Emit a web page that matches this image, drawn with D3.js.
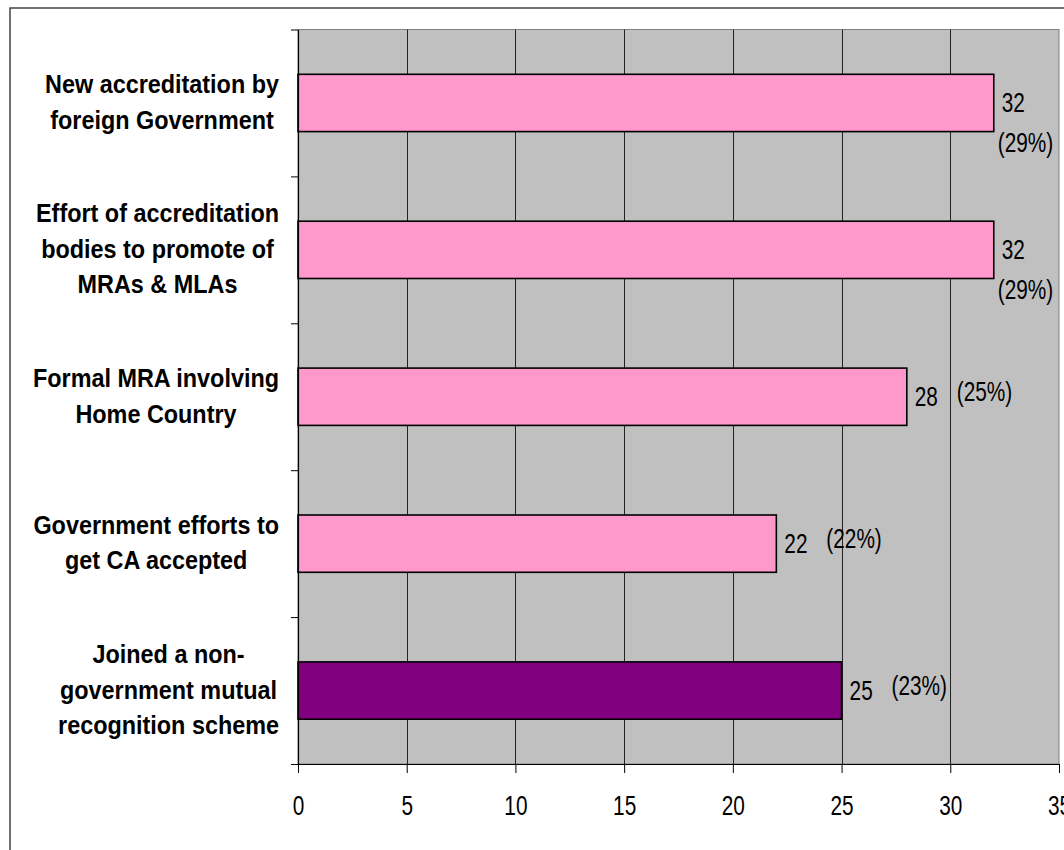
<!DOCTYPE html>
<html>
<head>
<meta charset="utf-8">
<script src="https://cdn.jsdelivr.net/npm/d3@7"></script>
<style>
  html, body { margin: 0; padding: 0; background: #ffffff; }
  svg { display: block; }
  text { font-family: "Liberation Sans", Arial, sans-serif; fill: #000; }
</style>
</head>
<body>
<svg id="chart" width="1064" height="850"></svg>
<script>
// ---- data ----
const categories = [
  ["New accreditation by", "foreign Government"],
  ["Effort of accreditation", "bodies to promote of", "MRAs & MLAs"],
  ["Formal MRA involving", "Home Country"],
  ["Government efforts to", "get CA accepted"],
  ["Joined a non-", "government mutual", "recognition scheme"]
];
const values = [32, 32, 28, 22, 25];
const percents = ["(29%)", "(29%)", "(25%)", "(22%)", "(23%)"];
const xTicks = [0, 5, 10, 15, 20, 25, 30, 35];
const highlightIndex = 4;

// ---- layout ----
const W = 1064, H = 850;
const plot = { left: 298, right: 1059, top: 29.5, bottom: 764 };
const numScaleY = 1.3;    // narrow, tall numerals
const numSize = 20.8;
const catScaleY = 1.07;

const svg = d3.select("#chart");

// outer frame (extends past the window)
svg.append("rect")
  .attr("x", 10).attr("y", 8).attr("width", 1080).attr("height", 900)
  .attr("fill", "#fff").attr("stroke", "#444").attr("stroke-width", 1.5);

const x = d3.scaleLinear().domain([0, 35]).range([plot.left, plot.right]);
const y = d3.scaleBand().domain(d3.range(categories.length))
  .range([plot.top, plot.bottom]).paddingInner(0.61).paddingOuter(0.305);

// plot background
svg.append("rect")
  .attr("x", plot.left).attr("y", plot.top)
  .attr("width", plot.right - plot.left).attr("height", plot.bottom - plot.top)
  .attr("fill", "#C0C0C0").attr("stroke", "#808080").attr("stroke-width", 1);

// vertical gridlines
svg.append("g").selectAll("line")
  .data(xTicks.filter(t => t > 0 && t < 35))
  .join("line")
  .attr("x1", d => Math.round(x(d)) + 0.5).attr("x2", d => Math.round(x(d)) + 0.5)
  .attr("y1", plot.top).attr("y2", plot.bottom)
  .attr("stroke", "#222").attr("stroke-width", 1);

// bars
svg.append("g").selectAll("rect")
  .data(values)
  .join("rect")
  .attr("x", x(0))
  .attr("y", (d, i) => y(i))
  .attr("width", d => x(d) - x(0))
  .attr("height", y.bandwidth())
  .attr("fill", (d, i) => i === highlightIndex ? "#800080" : "#FF99CC")
  .attr("stroke", "#000").attr("stroke-width", 1.6);

// x axis
const xAxis = svg.append("g")
  .attr("transform", `translate(0,${plot.bottom})`)
  .call(d3.axisBottom(x).tickValues(xTicks).tickSize(9).tickSizeOuter(0));
xAxis.select(".domain").attr("stroke", "#000").attr("stroke-width", 1.2);
xAxis.selectAll(".tick line").attr("stroke", "#000");
xAxis.selectAll(".tick text")
  .attr("y", null).attr("dy", null)
  .attr("transform", `translate(0,${815 - plot.bottom}) scale(1,${numScaleY})`)
  .attr("font-size", numSize)
  .attr("font-family", "'Liberation Sans', Arial, sans-serif")
  .attr("text-anchor", "middle");

// y axis (ticks at band boundaries)
const yTickScale = d3.scaleLinear().domain([0, categories.length]).range([plot.top, plot.bottom]);
const yAxis = svg.append("g")
  .attr("transform", `translate(${plot.left},0)`)
  .call(d3.axisLeft(yTickScale).ticks(categories.length).tickFormat("").tickSize(7).tickSizeOuter(0));
yAxis.select(".domain").attr("stroke", "#000").attr("stroke-width", 1.2);
yAxis.selectAll(".tick line").attr("stroke", "#000");

// category labels
const lineH = 35.5;
const labelRight = 279;
const catG = svg.append("g");
categories.forEach((lines, i) => {
  const cy = y(i) + y.bandwidth() / 2;
  const g = catG.append("g");
  const texts = lines.map((ln, j) => g.append("text")
    .attr("font-weight", "bold")
    .attr("font-size", 23.4)
    .attr("text-anchor", "middle")
    .datum(cy + (j - (lines.length - 1) / 2) * lineH + 8)
    .text(ln));
  const maxW = d3.max(texts, t => t.node().getComputedTextLength());
  texts.forEach(t => t.attr("transform",
    `translate(${labelRight - maxW / 2},${t.datum()}) scale(1,${catScaleY})`));
});

// value labels
const lblG = svg.append("g");
values.forEach((v, i) => {
  const cy = y(i) + y.bandwidth() / 2;
  const vx = x(v) + 8;
  lblG.append("text")
    .attr("transform", `translate(${vx},${cy + 9}) scale(1,${numScaleY})`)
    .attr("font-size", numSize)
    .text(v);
  const p = lblG.append("text")
    .attr("font-size", numSize)
    .text(percents[i]);
  const pw = p.node().getComputedTextLength();
  let px = vx + 42, py = cy + 4.5;
  if (px + pw > W) { px = x(v) + 4; py = cy + 9 + 40; }
  p.attr("transform", `translate(${px},${py}) scale(1,${numScaleY})`);
});
</script>
</body>
</html>
